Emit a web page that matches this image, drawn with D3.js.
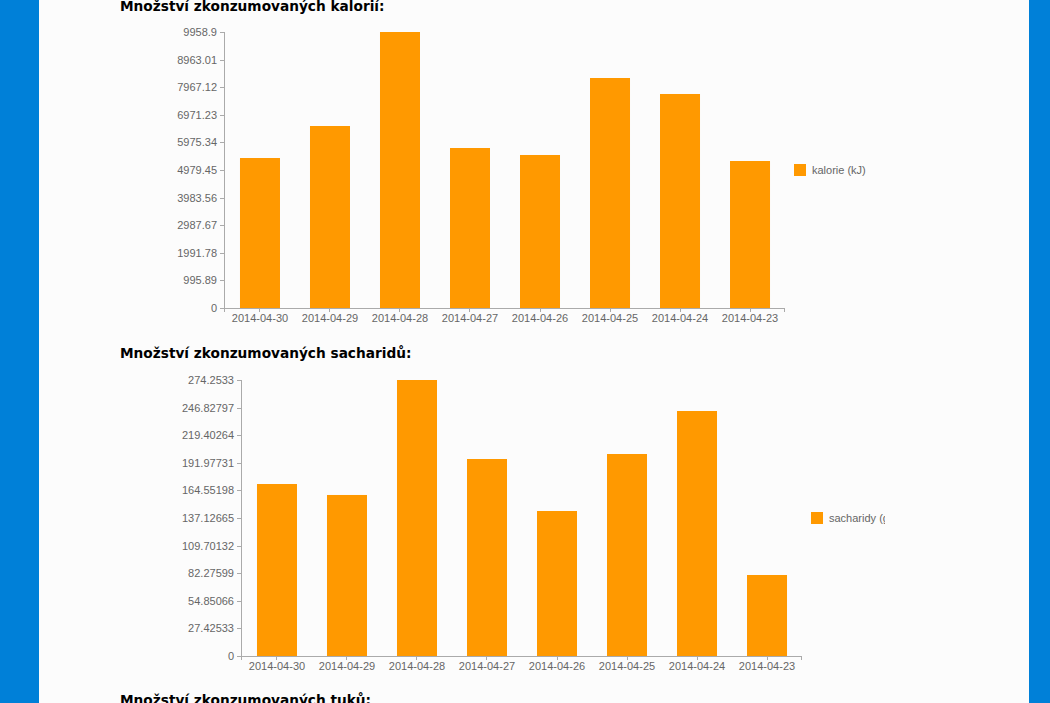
<!DOCTYPE html>
<html><head><meta charset="utf-8">
<script src="https://cdn.jsdelivr.net/npm/d3@7"></script>
<style>
html,body{margin:0;padding:0;background:#0080d8;overflow:hidden;}
svg{display:block;}
.axis text{font-family:"Liberation Sans",Arial,sans-serif;font-size:11px;fill:#666;}
.axis path,.axis line{stroke:#aaa;shape-rendering:crispEdges;}
.title{font-family:"DejaVu Sans",Verdana,sans-serif;font-weight:bold;font-size:13.7px;fill:#000;}
.leg{font-family:"Liberation Sans",Arial,sans-serif;font-size:11px;fill:#666;}
</style></head>
<body>
<script>
const dates = ["2014-04-30","2014-04-29","2014-04-28","2014-04-27","2014-04-26","2014-04-25","2014-04-24","2014-04-23"];
const kalorie = [5412, 6567, 9958.9, 5773, 5521, 8299, 7722, 5304];
const sacharidy = [170.9, 160.0, 274.2533, 195.75, 144.08, 200.72, 243.45, 80.49];
const kalorieTicks = ["0","995.89","1991.78","2987.67","3983.56","4979.45","5975.34","6971.23","7967.12","8963.01","9958.9"];
const sacharidyTicks = ["0","27.42533","54.85066","82.27599","109.70132","137.12665","164.55198","191.97731","219.40264","246.82797","274.2533"];
const titles = ["Množství zkonzumovaných kalorií:","Množství zkonzumovaných sacharidů:","Množství zkonzumovaných tuků:"];
const legends = ["kalorie (kJ)","sacharidy (g)"];

const W = 1050, H = 703;
const svg = d3.select("body").append("svg").attr("width", W).attr("height", H);
svg.append("rect").attr("x",39).attr("y",0).attr("width",990).attr("height",H).attr("fill","#fcfcfc");

const defs = svg.append("defs");

function chart(idx, values, ticks, x0, y0, clipRight){
  const top = y0 - 276;
  const max = +ticks[ticks.length-1];
  const x = d3.scaleBand().domain(dates).range([x0+1, x0+561]).paddingInner(30/70).paddingOuter(15/70*0.999);
  const y = d3.scaleLinear().domain([0, max]).range([y0, top]);
  const g = svg.append("g");
  g.selectAll("rect.bar").data(values).enter().append("rect")
    .attr("x", (d,i)=>x(dates[i])).attr("width", x.bandwidth())
    .attr("y", d=>y(d)).attr("height", d=>y0-y(d)).attr("fill","#ff9900");
  const tickVals = ticks.map(Number);
  g.append("g").attr("class","axis").attr("transform",`translate(${x0},0)`)
    .call(d3.axisLeft(y).tickValues(tickVals).tickSize(4).tickSizeOuter(4).tickFormat((d,i)=>ticks[i]));
  const xa = g.append("g").attr("class","axis").attr("transform",`translate(0,${y0})`)
    .call(d3.axisBottom(x).tickSize(4).tickSizeOuter(4).tickPadding(2));
  xa.select(".domain").attr("d", `M${x0},${4}V0H${x0+560}V4`);
  const cid = "clip"+idx;
  defs.append("clipPath").attr("id",cid).append("rect").attr("x",0).attr("y",0).attr("width",clipRight).attr("height",H);
  const lg = g.append("g").attr("clip-path",`url(#${cid})`);
  const ly = top + 138;
  lg.append("rect").attr("x", x0+570).attr("y", ly-6).attr("width",12).attr("height",12).attr("fill","#ff9900");
  lg.append("text").attr("class","leg").attr("x", x0+588).attr("y", ly).attr("dy","0.35em").text(legends[idx]);
}

svg.append("text").attr("class","title").attr("x",120).attr("y",11).text(titles[0]);
chart(0, kalorie, kalorieTicks, 224, 308, 885);
svg.append("text").attr("class","title").attr("x",120).attr("y",358).text(titles[1]);
chart(1, sacharidy, sacharidyTicks, 241, 656, 885);
svg.append("text").attr("class","title").attr("x",120).attr("y",705).text(titles[2]);
</script>
</body></html>
